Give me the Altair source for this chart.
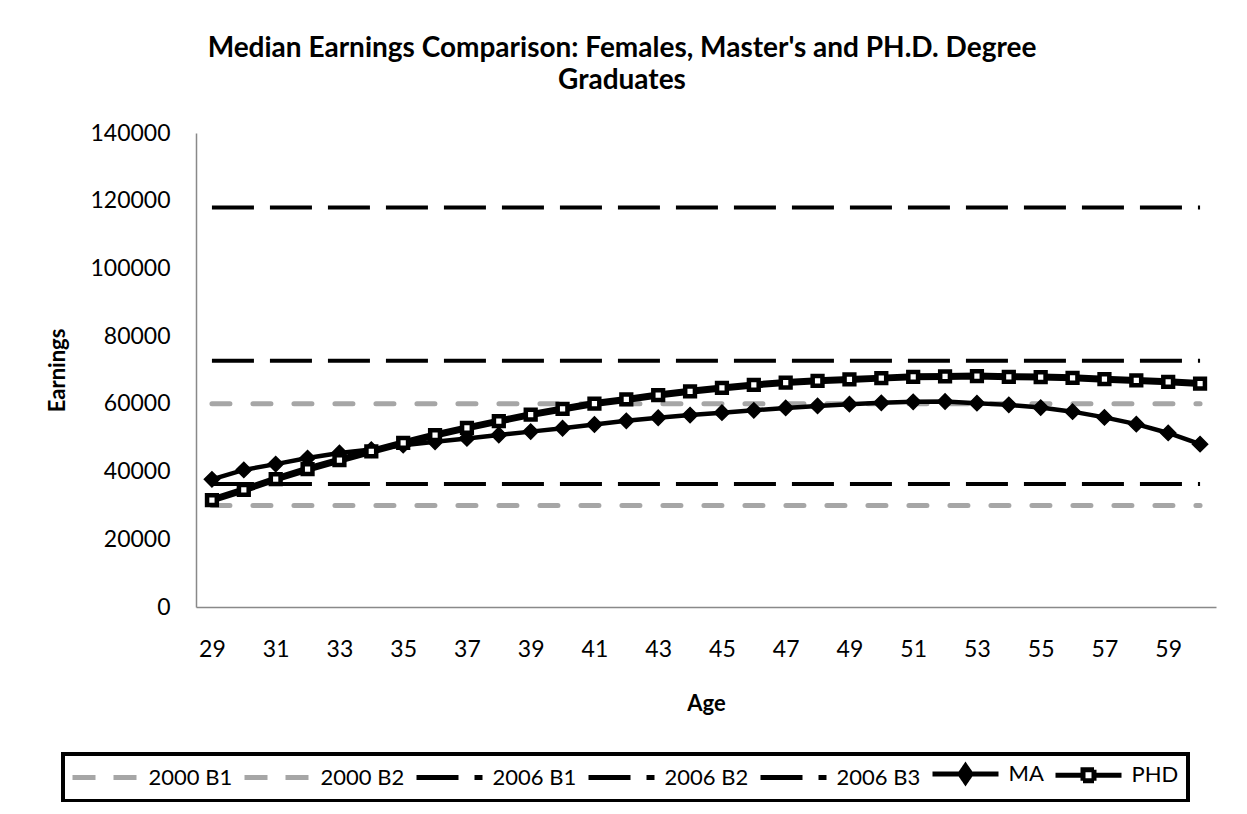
import altair as alt
import pandas as pd

# ---- data ----
ages = list(range(29, 61))
ma = [37700, 40500, 42200, 44000, 45500, 46500, 47800, 48800, 49800, 50800,
      51800, 52800, 53900, 55000, 55900, 56700, 57400, 58100, 58800, 59400,
      59900, 60300, 60600, 60700, 60200, 59700, 58900, 57700, 56000, 54000,
      51400, 48100]
phd = [31600, 34600, 37800, 40700, 43400, 46000, 48500, 50800, 52900, 54900,
       56800, 58500, 60100, 61300, 62600, 63700, 64700, 65600, 66300, 66800,
       67200, 67600, 68000, 68100, 68200, 68000, 67900, 67700, 67300, 66900,
       66500, 66000]
ref_names = ["2000 B1", "2000 B2", "2006 B1", "2006 B2", "2006 B3"]
ref_values = [30000, 60000, 36300, 72700, 118000]
series_order = ref_names + ["MA", "PHD"]
x_ticks = list(range(29, 61, 2))
y_ticks = list(range(0, 140001, 20000))

rows = []
for name, v in zip(ref_names, ref_values):
    for a in ages:
        rows.append({"Age": a, "Earnings": v, "series": name})
for a, v in zip(ages, ma):
    rows.append({"Age": a, "Earnings": v, "series": "MA"})
for a, v in zip(ages, phd):
    rows.append({"Age": a, "Earnings": v, "series": "PHD"})
df = pd.DataFrame(rows)

GRAY = "#A6A6A6"
FONT = "Lato"

x = alt.X("Age:O", scale=alt.Scale(type="point", padding=0.5),
          axis=alt.Axis(values=x_ticks, title="Age", labelAngle=0, labelPadding=31,
                        titleX=510, titleY=96, titleBaseline="middle", titleAlign="center"))
y = alt.Y("Earnings:Q", scale=alt.Scale(domain=[0, 140000], nice=False),
          axis=alt.Axis(values=y_ticks, format="d", title="Earnings", labelPadding=26,
                        titleX=-139, titleY=237, titleAngle=-90,
                        titleBaseline="middle", titleAlign="center"))

base = alt.Chart(df).encode(x=x, y=y)

gray_lines = base.transform_filter(
    alt.FieldOneOfPredicate(field="series", oneOf=["2000 B1", "2000 B2"])
).mark_line(color=GRAY, strokeWidth=5, strokeDash=[18, 23], strokeCap="round").encode(detail="series:N")

black_lines = base.transform_filter(
    alt.FieldOneOfPredicate(field="series", oneOf=["2006 B1", "2006 B2", "2006 B3"])
).mark_line(color="black", strokeWidth=4, strokeDash=[42, 16]).encode(detail="series:N")

ma_base = base.transform_filter(alt.datum.series == "MA")
ma_line = ma_base.mark_line(color="black", strokeWidth=4.5)
ma_pts = ma_base.mark_point(shape="diamond", size=230, filled=True, color="black",
                            stroke="black", strokeWidth=1.5, opacity=1)

phd_base = base.transform_filter(alt.datum.series == "PHD")
phd_line = phd_base.mark_line(color="black", strokeWidth=7)
phd_pts = phd_base.mark_point(shape="square", size=95, filled=True, fill="white",
                              stroke="black", strokeWidth=4.5, opacity=1)

# legend-only layer (no visible marks), styled like Excel's legend samples
sym_line = "M-6.6,0H6.6"
sym_ma = "M-6.6,0H6.6M0,-1.6L1.1,0L0,1.6L-1.1,0Z"
sym_phd = "M-6.6,0H-1.1M1.1,0H6.6M-1.1,-1.1H1.1V1.1H-1.1Z"
leg = alt.Legend(title=None)
legend_layer = alt.Chart(df).transform_filter("false").mark_point(opacity=1, size=100).encode(
    stroke=alt.Stroke("series:N", legend=leg, scale=alt.Scale(
        domain=series_order, range=[GRAY, GRAY, "black", "black", "black", "black", "black"])),
    fill=alt.Fill("series:N", legend=leg, scale=alt.Scale(
        domain=series_order, range=["transparent"] * 5 + ["black", "white"])),
    shape=alt.Shape("series:N", legend=leg, scale=alt.Scale(
        domain=series_order, range=[sym_line] * 5 + [sym_ma, sym_phd])),
    strokeDash=alt.StrokeDash("series:N", legend=leg, scale=alt.Scale(
        domain=series_order, range=[[23, 18], [23, 18], [42, 16], [42, 16], [42, 16], [1, 0], [1, 0]])),
    strokeWidth=alt.StrokeWidth("series:N", legend=leg, scale=alt.Scale(
        domain=series_order, range=[5, 5, 4, 4, 4, 4, 6])),
)

chart = alt.layer(
    gray_lines, black_lines, ma_line, ma_pts, phd_line, phd_pts, legend_layer
).properties(
    width=1020, height=474,
    autosize=alt.AutoSizeParams(type="none"),
    padding={"left": 188, "top": 125, "right": 15, "bottom": 195},
    title=alt.TitleParams(
        ["Median Earnings Comparison: Females, Master's and PH.D. Degree", "Graduates"],
        font=FONT, fontSize=28, fontWeight="bold", color="black",
        anchor="middle", frame="group", dx=-84, offset=27, lineHeight=32),
).configure_view(stroke=None).configure_axis(
    grid=False, ticks=False, domainColor="#898989", domainWidth=1.5,
    labelFont=FONT, labelFontSize=23, labelColor="black",
    titleFont=FONT, titleFontSize=22, titleFontWeight="bold", titleColor="black",
).configure_legend(
    orient="none", legendX=-133, legendY=621, direction="horizontal", columns=7,
    symbolSize=100, symbolOffset=22.5, labelOffset=32, columnPadding=1,
    labelFont=FONT, labelFontSize=22, labelColor="black", labelLimit=300,
    padding=9, strokeColor="black", strokeWidth=4,
)

chart.save("out.html", embed_options={"renderer": "svg", "actions": False})
